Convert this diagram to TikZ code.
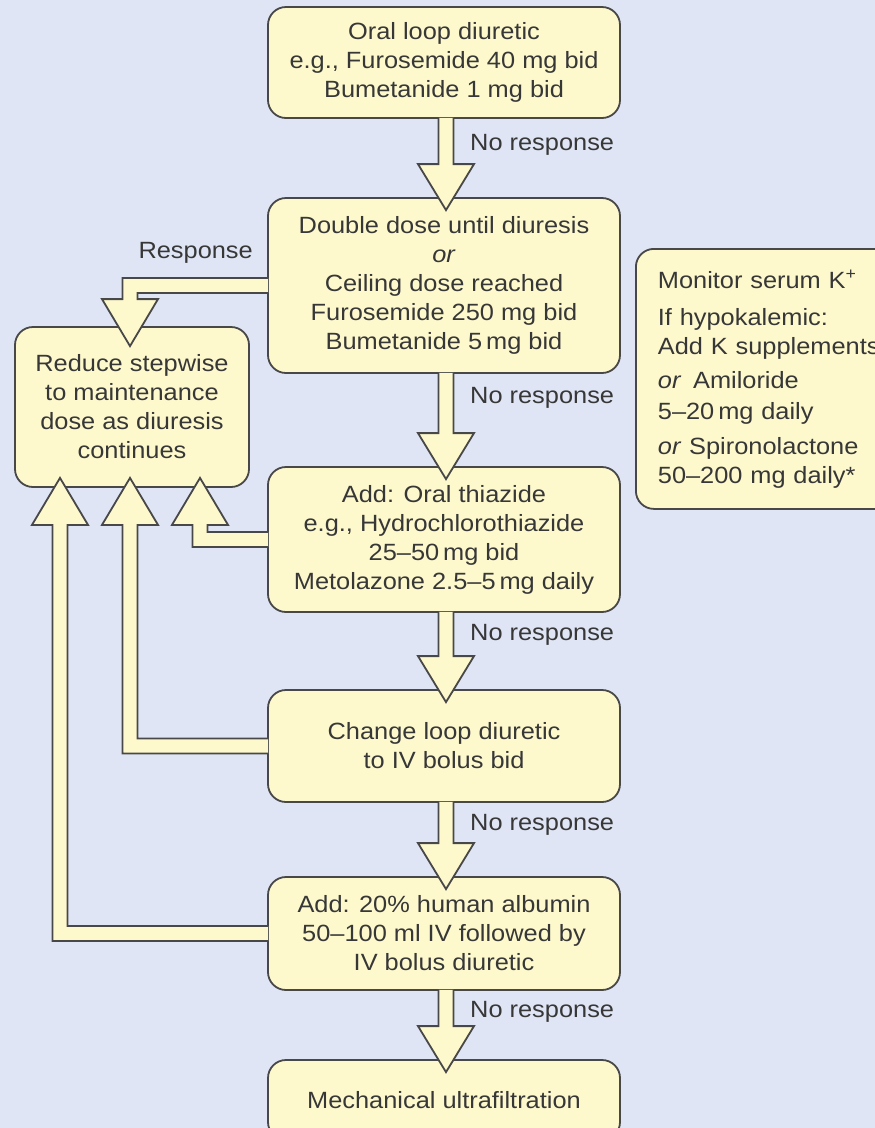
\documentclass[tikz,border=0pt]{standalone}
\usepackage{fontspec}
\setmainfont{Liberation Sans}[FakeStretch=1.08]
\usepackage{xcolor}
\usepackage{tikz}
\usetikzlibrary{calc,positioning}

\definecolor{backdrop}{RGB}{223,229,245}
\definecolor{paper}{RGB}{253,249,205}
\definecolor{edge}{RGB}{72,72,72}
\definecolor{ink}{RGB}{55,55,55}

\tikzset{
  box/.style={draw=edge, fill=paper, line width=1.8pt, rounded corners=18pt,
    minimum width=352pt, align=center},
  fat/.style={draw=edge, fill=paper, line width=1.8pt, line join=miter},
  lbl/.style={inner sep=0pt}
}

\newcommand\fatdown[2]{%
  \coordinate (s) at ($(#1.south)+(2,-1)$);
  \coordinate (t) at ($(#2.north)+(2,13)$);
  \draw[fat] ($(s)+(-7.5,0)$) -- ($(t)+(-7.5,-46)$) -- ++(-20.5,0) -- (t)
    -- ++(28,-46) -- ++(-20.5,0) -- ($(s)+(7.5,0)$);}
\newcommand\fatback[2]{%
  \coordinate (w) at ($(#1.west)+(1,0)$);
  \coordinate (v) at ($(reduce.south)+(#2,-10)$);
  \draw[fat] ($(w)+(0,-7.5)$) -| ($(v)+(7.5,47)$) -- ++(20.5,0) -- (v)
    -- ++(-28,47) -- ++(20.5,0) |- ($(w)+(0,7.5)$);}

\begin{document}
\begin{tikzpicture}[x=1pt, y=-1pt, font=\fontsize{23.5}{29}\selectfont, text=ink]
    \useasboundingbox (0,0) rectangle (875,1128);
    \clip (0,0) rectangle (875,1128);
    \fill[backdrop] (0,0) rectangle (875,1128);

    \node[box, minimum height=111pt] (oral) at (444,62.5)
      {Oral loop diuretic\\ e.g., Furosemide 40 mg bid\\ Bumetanide 1 mg bid};
    \node[box, minimum height=175pt, below=78.2pt of oral] (dbl)
      {Double dose until diuresis\\ \textit{or}\\ Ceiling dose reached\\
       Furosemide 250 mg bid\\ Bumetanide 5\,mg bid};
    \node[box, minimum height=145pt, below=92.2pt of dbl] (thz)
      {Add: Oral thiazide\\ e.g., Hydrochlorothiazide\\ 25--50\,mg bid\\
       Metolazone 2.5--5\,mg daily};
    \node[box, minimum height=112pt, below=76.2pt of thz] (chg)
      {Change loop diuretic\\ to IV bolus bid};
    \node[box, minimum height=113pt, below=73.2pt of chg] (alb)
      {Add: 20\% human albumin\\ 50--100 ml IV followed by\\ IV bolus diuretic};
    \node[box, minimum height=80pt, below=68.2pt of alb] (uf)
      {Mechanical ultrafiltration};

    \node[box, minimum width=234pt, minimum height=160pt] (reduce) at (132,407)
      {Reduce stepwise\\ to maintenance\\ dose as diuresis\\ continues};
    \node[box, anchor=north west, align=left, text width=308pt, inner xsep=22pt,
      minimum height=260pt] (monitor) at (635,248)
      {Monitor serum K\textsuperscript{+}\\[8pt]
       If hypokalemic:\\ Add K supplements\\[5pt]
       \textit{or}\ \,Amiloride\\[2pt] 5--20\,mg daily\\[6pt]
       \textit{or} Spironolactone\\ 50--200 mg daily*};

    \fatdown{oral}{dbl}
    \fatdown{dbl}{thz}
    \fatdown{thz}{chg}
    \fatdown{chg}{alb}
    \fatdown{alb}{uf}

    \coordinate (r) at ($(reduce.north)+(-2,20)$);
    \draw[fat] ($(dbl.west)+(1,-7.5)$) -| ($(r)+(-7.5,-47)$) -- ++(-20.5,0) -- (r)
      -- ++(28,-47) -- ++(-20.5,0) |- ($(dbl.west)+(1,7.5)$);
    \fatback{thz}{68}
    \fatback{chg}{-2}
    \fatback{alb}{-72}

    \node[lbl, anchor=base east] (resp) at (253,258) {Response};
    \node[lbl, anchor=base west] (nr1) at (470,150) {No response};
    \node[lbl, anchor=base west] (nr2) at (470,403) {No response};
    \node[lbl, anchor=base west] (nr3) at (470,640) {No response};
    \node[lbl, anchor=base west] (nr4) at (470,830) {No response};
    \node[lbl, anchor=base west] (nr5) at (470,1017) {No response};
  \end{tikzpicture}
\end{document}
